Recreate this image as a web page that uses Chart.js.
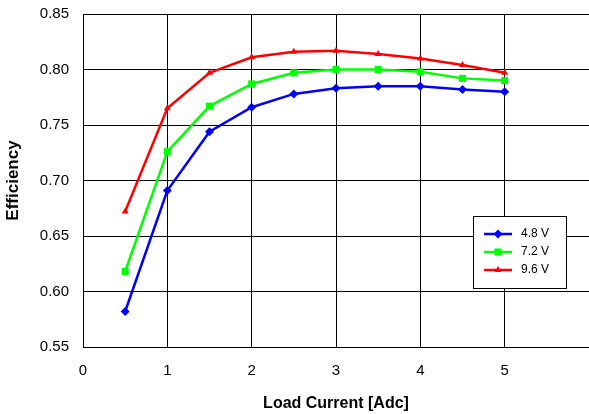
<!DOCTYPE html>
<html>
<head>
<meta charset="utf-8">
<title>Efficiency vs Load Current</title>
<script src="https://cdn.jsdelivr.net/npm/chart.js@4.4.1/dist/chart.umd.min.js"></script>
<style>
  html, body { margin: 0; padding: 0; background: #ffffff; }
  #wrap { width: 589px; height: 414px; }
</style>
</head>
<body>
<div id="wrap"><canvas id="chart" width="589" height="414"></canvas></div>
<script>
// Load current steps (A)
const loadCurrent = [0.5, 1, 1.5, 2, 2.5, 3, 3.5, 4, 4.5, 5];

// Measured efficiency per input voltage
const seriesNames = ['4.8 V', '7.2 V', '9.6 V'];
const eff48 = [0.582, 0.691, 0.744, 0.766, 0.778, 0.783, 0.785, 0.785, 0.782, 0.780];
const eff72 = [0.618, 0.726, 0.767, 0.787, 0.797, 0.800, 0.800, 0.798, 0.792, 0.790];
const eff96 = [0.672, 0.765, 0.797, 0.811, 0.816, 0.817, 0.814, 0.810, 0.804, 0.797];

// Axis ranges
const xRange = [0, 6];
const yRange = [0.55, 0.85];

const FONT = "'Liberation Sans', Arial, sans-serif";

function toPoints(values) {
  return values.map((v, i) => ({ x: loadCurrent[i], y: v }));
}

const datasets = [
  { label: seriesNames[0], data: toPoints(eff48), borderColor: '#0000ff', backgroundColor: '#0000ff', pointStyle: 'rectRot', pointRadius: 4.5 },
  { label: seriesNames[1], data: toPoints(eff72), borderColor: '#00ff00', backgroundColor: '#00ff00', pointStyle: 'rect', pointRadius: 5 },
  { label: seriesNames[2], data: toPoints(eff96), borderColor: '#ff0000', backgroundColor: '#ff0000', pointStyle: 'triangle', pointRadius: 4 }
].map(d => Object.assign(d, {
  borderWidth: 2.5,
  pointBorderWidth: 0,
  pointHoverRadius: d.pointRadius,
  tension: 0,
  fill: false
}));

// Boxed legend sitting inside the plot area, lower right
const boxLegend = {
  id: 'boxLegend',
  afterDraw(chart) {
    const ctx = chart.ctx;
    const x0 = 473.5, y0 = 216.5, w = 93, h = 72;
    ctx.save();
    ctx.fillStyle = '#ffffff';
    ctx.fillRect(x0, y0, w, h);
    ctx.strokeStyle = '#000000';
    ctx.lineWidth = 1;
    ctx.strokeRect(x0, y0, w, h);
    chart.data.datasets.forEach((ds, i) => {
      const y = 234 + i * 18;
      ctx.strokeStyle = ds.borderColor;
      ctx.lineWidth = 2.5;
      ctx.beginPath();
      ctx.moveTo(484, y);
      ctx.lineTo(512, y);
      ctx.stroke();
      ctx.fillStyle = ds.backgroundColor;
      Chart.helpers.drawPoint(ctx, {
        pointStyle: ds.pointStyle, radius: ds.pointRadius, rotation: 0, borderWidth: 0
      }, 498, y);
      ctx.fillStyle = '#000000';
      ctx.font = '12px ' + FONT;
      ctx.textBaseline = 'middle';
      ctx.textAlign = 'left';
      ctx.fillText(ds.label, 521, y);
    });
    ctx.restore();
  }
};

new Chart(document.getElementById('chart'), {
  type: 'line',
  data: { datasets },
  plugins: [boxLegend],
  options: {
    responsive: false,
    animation: false,
    events: [],
    layout: { autoPadding: false, padding: { top: 14, right: 0, bottom: 0, left: 0 } },
    plugins: {
      legend: { display: false },
      tooltip: { enabled: false }
    },
    scales: {
      x: {
        type: 'linear',
        min: xRange[0],
        max: xRange[1],
        afterFit(scale) {
          scale.height = 67;
          scale.paddingLeft = 0;
          scale.paddingRight = 0;
        },
        ticks: {
          stepSize: 1,
          padding: 15,
          color: '#000000',
          font: { family: FONT, size: 15 },
          maxRotation: 0,
          callback: v => (v === xRange[1] ? '' : String(v))
        },
        grid: {
          color: c => (c.tick && c.tick.value === xRange[1] ? 'rgba(0,0,0,0)' : '#000000'),
          lineWidth: 1,
          drawTicks: false
        },
        border: { color: '#000000', width: 1 },
        title: {
          display: true,
          text: 'Load Current [Adc]',
          color: '#000000',
          font: { family: FONT, size: 16, weight: 'bold' },
          padding: { top: 0, bottom: 1 }
        }
      },
      y: {
        min: yRange[0],
        max: yRange[1],
        afterFit(scale) {
          scale.width = 83;
          scale.paddingTop = 0;
          scale.paddingBottom = 0;
        },
        ticks: {
          stepSize: 0.05,
          padding: 14,
          color: '#000000',
          font: { family: FONT, size: 15 },
          callback: v => Number(v).toFixed(2)
        },
        grid: { color: '#000000', lineWidth: 1, drawTicks: false },
        border: { color: '#000000', width: 1 },
        title: {
          display: true,
          text: 'Efficiency',
          color: '#000000',
          font: { family: FONT, size: 17, weight: 'bold' },
          padding: { top: 3, bottom: 0 }
        }
      }
    }
  }
});
</script>
</body>
</html>
